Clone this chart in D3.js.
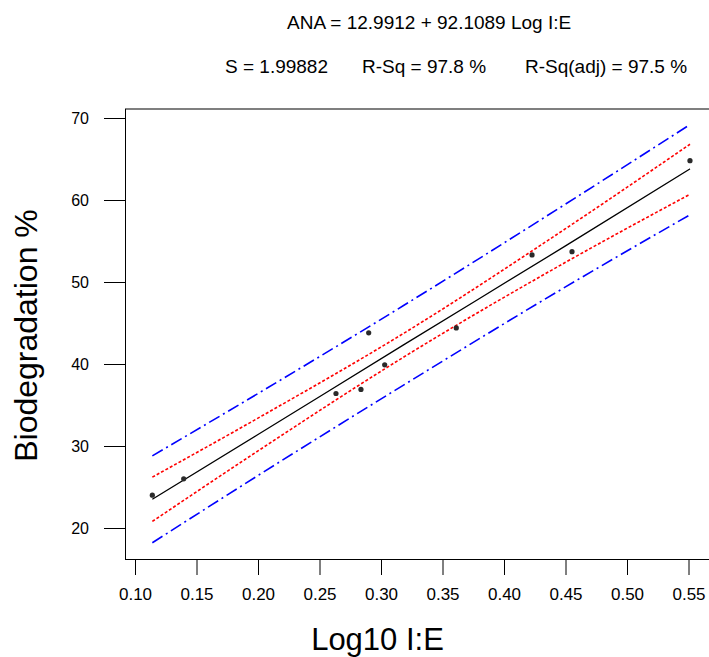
<!DOCTYPE html>
<html>
<head>
<meta charset="utf-8">
<script src="https://cdn.jsdelivr.net/npm/d3@7"></script>
<style>
  body { margin: 0; background: #fff; }
  svg { display: block; font-family: 'Liberation Sans', Arial, sans-serif; }
</style>
</head>
<body>
<svg id="chart" width="709" height="657"></svg>
<script>
// data
const logIE = [0.1141, 0.1396, 0.2634, 0.2837, 0.2900, 0.3030, 0.3612, 0.4228, 0.4553, 0.5512];
const biodeg = [24.0, 26.0, 36.4, 36.9, 43.8, 39.9, 44.4, 53.3, 53.7, 64.8];

// fit line and 95% bands, sampled along x
const bandX = [0.1141, 0.2, 0.318, 0.45, 0.5512];
const fitY = [23.5, 31.4, 42.3, 54.4, 63.8];
const ciUpper = [26.2, 33.4, 43.7, 56.5, 66.8];
const ciLower = [20.8, 29.4, 40.8, 52.4, 60.7];
const piUpper = [28.8, 36.4, 47.1, 59.5, 69.2];
const piLower = [18.2, 26.4, 37.4, 49.4, 58.2];

const xTicks = [0.10, 0.15, 0.20, 0.25, 0.30, 0.35, 0.40, 0.45, 0.50, 0.55];
const yTicks = [20, 30, 40, 50, 60, 70];

const titleLine = 'ANA = 12.9912 + 92.1089 Log I:E';
const statLabels = ['S = 1.99882', 'R-Sq = 97.8 %', 'R-Sq(adj) = 97.5 %'];

const FRAME = { left: 125.5, top: 109, bottom: 559.5, right: 720 };

const svg = d3.select('#chart');

const x = d3.scaleLinear().domain([0.1, 0.55]).range([135, 688.5]);
const y = d3.scaleLinear().domain([20, 70]).range([528, 118]);

// frame (right side falls outside the picture)
svg.append('rect')
  .attr('x', FRAME.left)
  .attr('y', FRAME.top)
  .attr('width', FRAME.right - FRAME.left)
  .attr('height', FRAME.bottom - FRAME.top)
  .attr('fill', 'none')
  .attr('stroke', '#000')
  .attr('stroke-width', 1);

// axes
const yAxis = svg.append('g')
  .attr('transform', `translate(${FRAME.left - 0.5},0)`)
  .call(d3.axisLeft(y).tickValues(yTicks).tickSize(21).tickPadding(15).tickFormat(d3.format('d')));
yAxis.select('.domain').remove();
yAxis.selectAll('text').style('font-size', '16px').attr('fill', '#000');

const xAxis = svg.append('g')
  .attr('transform', `translate(0,${FRAME.bottom - 0.5})`)
  .call(d3.axisBottom(x).tickValues(xTicks).tickSize(16).tickPadding(13).tickFormat(d3.format('.2f')));
xAxis.select('.domain').remove();
xAxis.selectAll('text').style('font-size', '17px').attr('fill', '#000');

// bands and fit
const bandLine = (vals) => d3.line()
  .x((d, i) => x(bandX[i]))
  .y((d) => y(d))
  .curve(d3.curveMonotoneX)(vals);

const bands = [
  { vals: piUpper, color: '#0000ff', dash: '12,4,2,4', w: 1.6 },
  { vals: piLower, color: '#0000ff', dash: '12,4,2,4', w: 1.6 },
  { vals: ciUpper, color: '#ff0000', dash: '3,2', w: 1.6 },
  { vals: ciLower, color: '#ff0000', dash: '3,2', w: 1.6 },
  { vals: fitY, color: '#000', dash: null, w: 1.3 }
];

svg.append('g')
  .selectAll('path')
  .data(bands)
  .join('path')
  .attr('d', (d) => bandLine(d.vals))
  .attr('fill', 'none')
  .attr('stroke', (d) => d.color)
  .attr('stroke-width', (d) => d.w)
  .attr('stroke-dasharray', (d) => d.dash);

// points
svg.append('g')
  .selectAll('circle')
  .data(logIE)
  .join('circle')
  .attr('cx', (d) => x(d))
  .attr('cy', (d, i) => y(biodeg[i]))
  .attr('r', 2.6)
  .attr('fill', '#2a2a2a');

// title text
svg.append('text')
  .attr('x', 287)
  .attr('y', 29)
  .style('font-size', '19px')
  .text(titleLine);

const statX = [225, 362, 525];
svg.append('g')
  .selectAll('text')
  .data(statLabels)
  .join('text')
  .attr('x', (d, i) => statX[i])
  .attr('y', 73)
  .style('font-size', '19px')
  .text((d) => d);

// axis titles
svg.append('text')
  .attr('x', 377.5)
  .attr('y', 650)
  .attr('text-anchor', 'middle')
  .style('font-size', '31px')
  .text('Log10 I:E');

svg.append('text')
  .attr('transform', 'translate(37,335.5) rotate(-90)')
  .attr('text-anchor', 'middle')
  .style('font-size', '32px')
  .text('Biodegradation %');
</script>
</body>
</html>
